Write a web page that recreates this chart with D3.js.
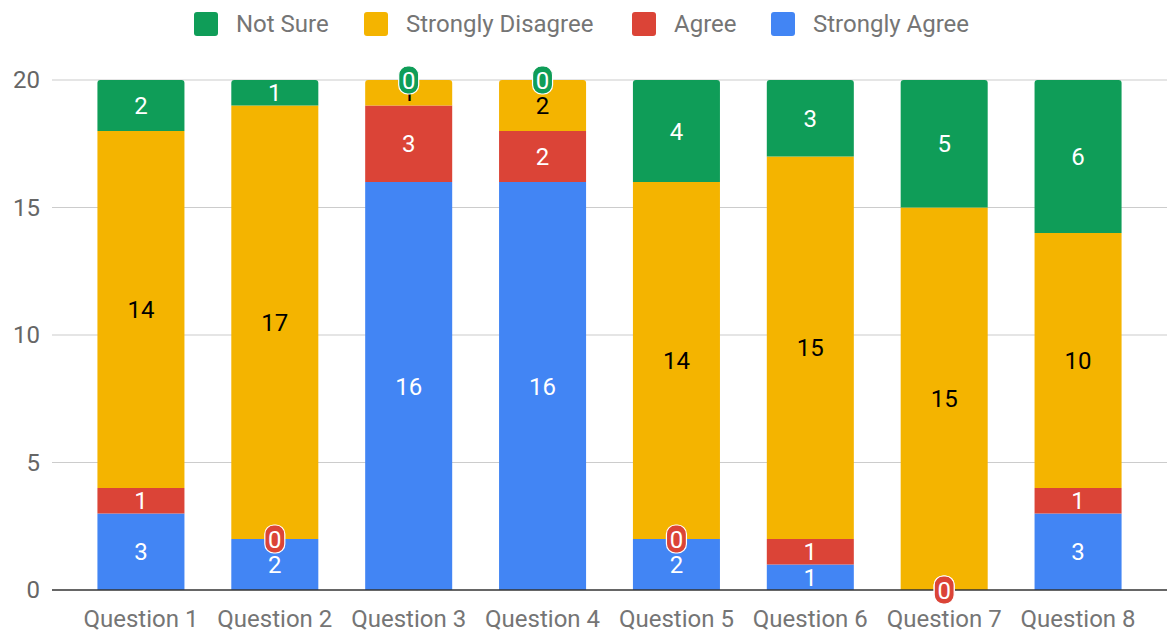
<!DOCTYPE html>
<html>
<head>
<meta charset="utf-8">
<script src="https://d3js.org/d3.v7.min.js"></script>
<style>
  body { margin: 0; background: #fff; }
  svg { display: block; font-family: Roboto, "Noto Sans", sans-serif; }
</style>
</head>
<body>
<div id="chart"></div>
<script>
// data
var questions = ["Question 1", "Question 2", "Question 3", "Question 4",
                 "Question 5", "Question 6", "Question 7", "Question 8"];
// stacking order, bottom to top
var seriesNames = ["Strongly Agree", "Agree", "Strongly Disagree", "Not Sure"];
var stronglyAgree    = [3, 2, 16, 16, 2, 1, 0, 3];
var agree            = [1, 0, 3, 2, 0, 1, 0, 1];
var stronglyDisagree = [14, 17, 1, 2, 14, 15, 15, 10];
var notSure          = [2, 1, 0, 0, 4, 3, 5, 6];
var legendOrder = ["Not Sure", "Strongly Disagree", "Agree", "Strongly Agree"];
var yTicks = [0, 5, 10, 15, 20];

var colors = {
  "Strongly Agree": "#4285f4",
  "Agree": "#db4437",
  "Strongly Disagree": "#f4b400",
  "Not Sure": "#0f9d58"
};
var labelColors = {
  "Strongly Agree": "#fff",
  "Agree": "#fff",
  "Strongly Disagree": "#000",
  "Not Sure": "#fff"
};

var rows = questions.map(function (q, i) {
  return {
    q: q,
    "Strongly Agree": stronglyAgree[i],
    "Agree": agree[i],
    "Strongly Disagree": stronglyDisagree[i],
    "Not Sure": notSure[i]
  };
});

var W = 1167, H = 633;
var svg = d3.select("#chart").append("svg").attr("width", W).attr("height", H);

var x = d3.scaleBand().domain(questions).range([74, 1145])
  .paddingInner(0.35).paddingOuter(0.175);
var y = d3.scaleLinear().domain([0, 20]).range([590, 80]);

// gridlines
svg.append("g").selectAll("line")
  .data(yTicks.filter(function (d) { return d > 0; }))
  .enter().append("line")
  .attr("x1", 52).attr("x2", W)
  .attr("y1", function (d) { return y(d); })
  .attr("y2", function (d) { return y(d); })
  .attr("stroke", "#cccccc").attr("stroke-width", 1.2);

// y tick labels
svg.append("g").selectAll("text")
  .data(yTicks).enter().append("text")
  .attr("x", 40).attr("y", function (d) { return y(d); })
  .attr("dy", "0.35em")
  .attr("text-anchor", "end")
  .style("font-size", "24px").style("fill", "#666")
  .text(function (d) { return d; });

var stack = d3.stack().keys(seriesNames)(rows);

// top-rounded rect path
function topRounded(x0, y0, w, h, r) {
  r = Math.min(r, h, w / 2);
  return "M" + x0 + "," + (y0 + h) +
    "V" + (y0 + r) +
    "Q" + x0 + "," + y0 + " " + (x0 + r) + "," + y0 +
    "H" + (x0 + w - r) +
    "Q" + (x0 + w) + "," + y0 + " " + (x0 + w) + "," + (y0 + r) +
    "V" + (y0 + h) + "Z";
}

var bw = x.bandwidth();
stack.forEach(function (layer) {
  var g = svg.append("g");
  layer.forEach(function (d, i) {
    if (d[1] - d[0] <= 0) return;
    var isTop = d[1] === 20;
    var x0 = x(questions[i]), y0 = y(d[1]), h = y(d[0]) - y(d[1]);
    if (isTop) {
      g.append("path").attr("d", topRounded(x0, y0, bw, h, 3))
        .attr("fill", colors[layer.key]);
    } else {
      g.append("rect").attr("x", x0).attr("y", y0)
        .attr("width", bw).attr("height", h)
        .attr("fill", colors[layer.key]);
    }
  });
});

// baseline
svg.append("line").attr("x1", 52).attr("x2", W)
  .attr("y1", y(0)).attr("y2", y(0))
  .attr("stroke", "#333").attr("stroke-width", 1.5);

// value labels
stack.forEach(function (layer) {
  var g = svg.append("g");
  layer.forEach(function (d, i) {
    var v = d[1] - d[0];
    var cx = x(questions[i]) + bw / 2;
    var cy = y((d[0] + d[1]) / 2);
    if (v === 0) {
      g.append("rect")
        .attr("x", cx - 10).attr("y", cy - 14)
        .attr("width", 20).attr("height", 28)
        .attr("rx", 9)
        .attr("fill", colors[layer.key])
        .attr("stroke", "#fff").attr("stroke-width", 1.2);
      g.append("text").attr("x", cx).attr("y", cy).attr("dy", "0.36em")
        .attr("text-anchor", "middle")
        .style("font-size", "24px").style("fill", "#fff")
        .text("0");
    } else {
      g.append("text").attr("x", cx).attr("y", cy).attr("dy", "0.36em")
        .attr("text-anchor", "middle")
        .style("font-size", "24px").style("fill", labelColors[layer.key])
        .text(v);
    }
  });
});

// x labels
svg.append("g").selectAll("text")
  .data(questions).enter().append("text")
  .attr("x", function (d) { return x(d) + bw / 2; })
  .attr("y", 619).attr("dy", "0.35em")
  .attr("text-anchor", "middle")
  .style("font-size", "24px").style("fill", "#757575")
  .text(function (d) { return d; });

// legend
var legX = [194, 364, 632, 771];
var leg = svg.append("g");
legendOrder.forEach(function (name, i) {
  leg.append("rect").attr("x", legX[i]).attr("y", 12)
    .attr("width", 24).attr("height", 24).attr("rx", 3)
    .attr("fill", colors[name]);
  leg.append("text").attr("x", legX[i] + 42).attr("y", 24).attr("dy", "0.35em")
    .style("font-size", "24px").style("fill", "#757575")
    .text(name);
});
</script>
</body>
</html>
